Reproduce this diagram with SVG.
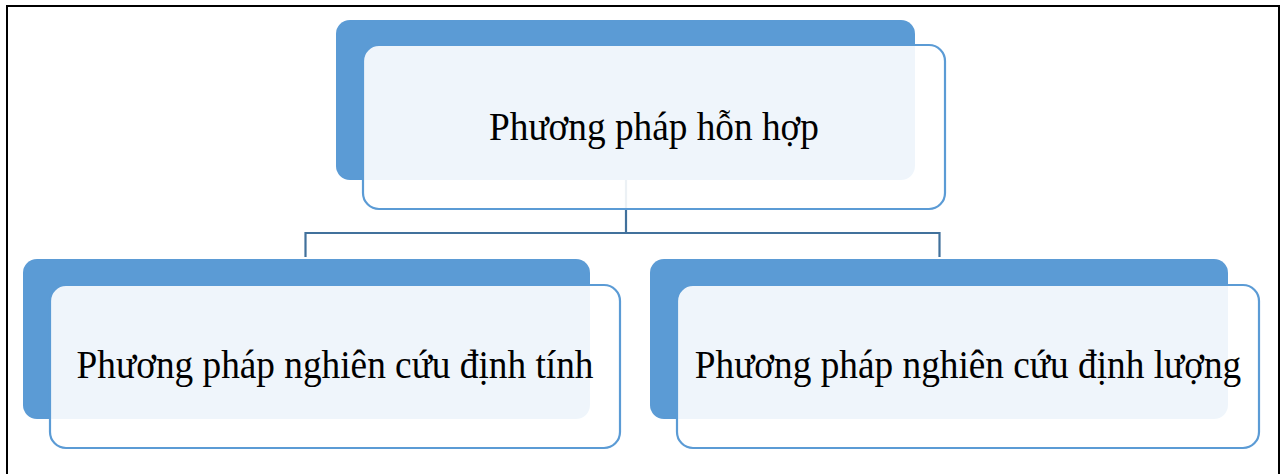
<svg xmlns="http://www.w3.org/2000/svg" width="1281" height="474" viewBox="0 0 1281 474">
<style>
.dark{fill:#5B9BD5;}
.light{fill:#FFFFFF;fill-opacity:0.9;stroke:#5B9BD5;stroke-width:2.2;}
.lbl{font-family:"Liberation Serif","Times New Roman",serif;font-size:37.3px;fill:#000;text-anchor:middle;}
.conn{fill:none;stroke:#41719C;stroke-width:2.2;}
</style>
<rect width="1281" height="474" fill="#FFFFFF"/>
<path d="M7,474 V6 H1279 V474" fill="none" stroke="#000" stroke-width="2"/>
<g id="connectors">
<path class="conn" d="M626,180 V233"/>
<path class="conn" d="M305.5,257 V233 H939.5 V257"/>
</g>
<g id="node-top">
<rect class="dark" x="336" y="20" width="579" height="160" rx="14"/>
<rect class="light" x="363" y="45" width="582" height="164" rx="16"/>
<text class="lbl" transform="translate(654,140) scale(1,1.06)">Phương pháp hỗn hợp</text>
</g>
<g id="node-left">
<rect class="dark" x="23" y="259" width="567" height="160" rx="14"/>
<rect class="light" x="50" y="285" width="570" height="163" rx="16"/>
<text class="lbl" transform="translate(335,378) scale(1,1.06)">Phương pháp nghiên cứu định tính</text>
</g>
<g id="node-right">
<rect class="dark" x="650" y="259" width="578" height="160" rx="14"/>
<rect class="light" x="677" y="285" width="582" height="163" rx="16"/>
<text class="lbl" transform="translate(968,378) scale(1,1.06)">Phương pháp nghiên cứu định lượng</text>
</g>
</svg>
